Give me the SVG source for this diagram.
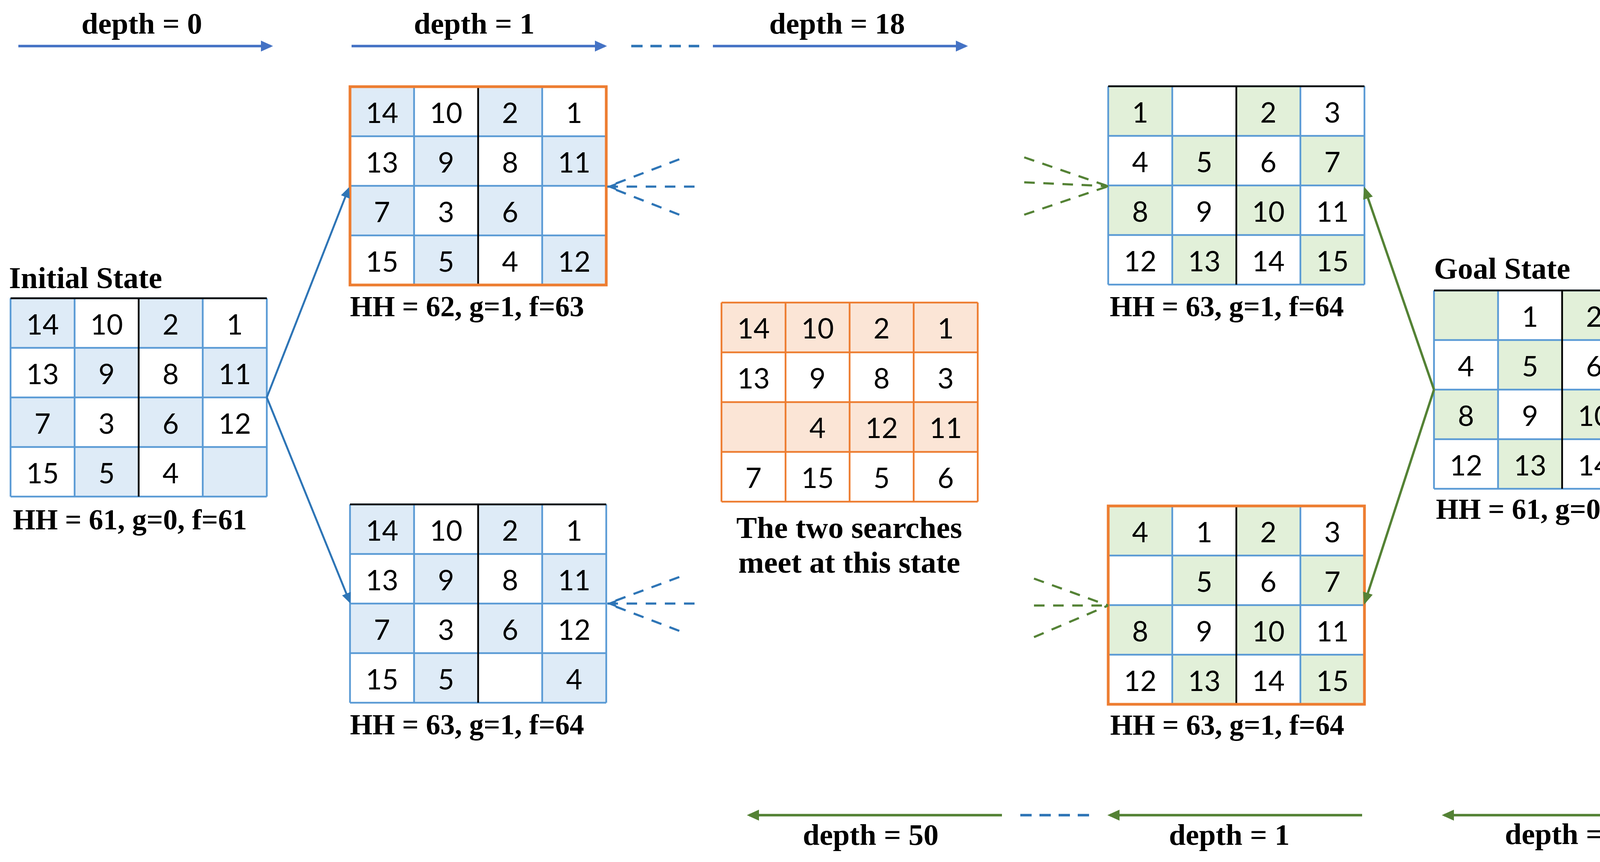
<svg xmlns="http://www.w3.org/2000/svg" xmlns:xlink="http://www.w3.org/1999/xlink" width="4356" height="2208" viewBox="0 0 4356 2208">
<style>
  .num { font-family: Lato, "Liberation Sans", sans-serif; font-size: 72px; text-anchor: middle; fill: #000; }
  .lbl { font-family: "Liberation Serif", serif; font-weight: bold; fill: #000; }
  .hh { font-size: 74px; }
  .ttl { font-size: 78px; }
  .dep { font-size: 77px; text-anchor: middle; }
  .gl { fill: none; stroke: #5B9BD5; stroke-width: 4.5; }
  .blk { fill: none; stroke: #000; stroke-width: 4.5; }
  .obrd { fill: none; stroke: #ED7D31; stroke-width: 7; }
  .ogl { fill: none; stroke: #ED7D31; stroke-width: 4.5; }
  .arrB { stroke: #4472C4; stroke-width: 6.5; fill: none; }
  .arrG { stroke: #548235; stroke-width: 6.5; fill: none; }
  .conB { stroke: #2E75B6; stroke-width: 5; fill: none; }
  .conG { stroke: #548235; stroke-width: 6; fill: none; }
  .dashB { stroke: #2E75B6; stroke-width: 5.5; fill: none; stroke-dasharray: 27 22; }
  .dashG { stroke: #548235; stroke-width: 5.5; fill: none; stroke-dasharray: 27 22; }
  .dashTop { stroke: #2E75B6; stroke-width: 6.5; fill: none; stroke-dasharray: 29 20; }
</style>
<defs>
  <marker id="hB" markerUnits="userSpaceOnUse" markerWidth="32" markerHeight="30" refX="25" refY="14" orient="auto">
    <path d="M0,0 L31,14 L0,28 Z" fill="#4472C4"/>
  </marker>
  <marker id="hG" markerUnits="userSpaceOnUse" markerWidth="32" markerHeight="30" refX="25" refY="14" orient="auto">
    <path d="M0,0 L31,14 L0,28 Z" fill="#548235"/>
  </marker>
  <marker id="hCB" markerUnits="userSpaceOnUse" markerWidth="28" markerHeight="26" refX="22" refY="12" orient="auto">
    <path d="M0,0 L27,12 L0,24 Z" fill="#2E75B6"/>
  </marker>
  <marker id="hCG" markerUnits="userSpaceOnUse" markerWidth="32" markerHeight="28" refX="25" refY="13" orient="auto">
    <path d="M0,0 L31,13 L0,26 Z" fill="#548235"/>
  </marker>
  <marker id="hStealth" markerUnits="userSpaceOnUse" markerWidth="32" markerHeight="26" refX="27" refY="12" orient="auto">
    <path d="M0,1 L29,12 L0,23 L8,12 Z" fill="#2E75B6"/>
  </marker>
  <path id="checker" d="M0,0h164v127H0z M328,0h164v127h-164z M164,127h164v127h-164z M492,127h164v127h-164z M0,254h164v127H0z M328,254h164v127h-164z M164,381h164v127h-164z M492,381h164v127h-164z"/>
  <path id="glines" d="M0,0V508 M164,0V508 M492,0V508 M656,0V508 M0,0H656 M0,127H656 M0,254H656 M0,381H656 M0,508H656"/>
</defs>

<rect width="4356" height="2208" fill="#fff"/>

<!-- Initial state -->
<g id="initial-state">
  <text class="lbl ttl" x="23" y="738">Initial State</text>
  <g transform="translate(27,764)">
    <use xlink:href="#checker" fill="#DEEBF7"/>
    <use xlink:href="#glines" class="gl"/>
    <path class="blk" d="M328,0V508 M0,0H656"/>
    <text class="num" x="82" y="93">14</text><text class="num" x="246" y="93">10</text><text class="num" x="410" y="93">2</text><text class="num" x="574" y="93">1</text>
    <text class="num" x="82" y="220">13</text><text class="num" x="246" y="220">9</text><text class="num" x="410" y="220">8</text><text class="num" x="574" y="220">11</text>
    <text class="num" x="82" y="347">7</text><text class="num" x="246" y="347">3</text><text class="num" x="410" y="347">6</text><text class="num" x="574" y="347">12</text>
    <text class="num" x="82" y="474">15</text><text class="num" x="246" y="474">5</text><text class="num" x="410" y="474">4</text>
  </g>
  <text class="lbl hh" x="33" y="1356">HH = 61, g=0, f=61</text>
</g>

<!-- Forward depth 1, upper -->
<g id="fwd-d1-upper">
  <g transform="translate(896,222)">
    <use xlink:href="#checker" fill="#DEEBF7"/>
    <use xlink:href="#glines" class="gl"/>
    <path class="blk" d="M328,0V508"/>
    <rect class="obrd" x="0" y="0" width="656" height="508"/>
    <text class="num" x="82" y="93">14</text><text class="num" x="246" y="93">10</text><text class="num" x="410" y="93">2</text><text class="num" x="574" y="93">1</text>
    <text class="num" x="82" y="220">13</text><text class="num" x="246" y="220">9</text><text class="num" x="410" y="220">8</text><text class="num" x="574" y="220">11</text>
    <text class="num" x="82" y="347">7</text><text class="num" x="246" y="347">3</text><text class="num" x="410" y="347">6</text>
    <text class="num" x="82" y="474">15</text><text class="num" x="246" y="474">5</text><text class="num" x="410" y="474">4</text><text class="num" x="574" y="474">12</text>
  </g>
  <text class="lbl hh" x="896" y="810">HH = 62, g=1, f=63</text>
</g>

<!-- Forward depth 1, lower -->
<g id="fwd-d1-lower">
  <g transform="translate(896,1292)">
    <use xlink:href="#checker" fill="#DEEBF7"/>
    <use xlink:href="#glines" class="gl"/>
    <path class="blk" d="M328,0V508 M0,0H656"/>
    <text class="num" x="82" y="93">14</text><text class="num" x="246" y="93">10</text><text class="num" x="410" y="93">2</text><text class="num" x="574" y="93">1</text>
    <text class="num" x="82" y="220">13</text><text class="num" x="246" y="220">9</text><text class="num" x="410" y="220">8</text><text class="num" x="574" y="220">11</text>
    <text class="num" x="82" y="347">7</text><text class="num" x="246" y="347">3</text><text class="num" x="410" y="347">6</text><text class="num" x="574" y="347">12</text>
    <text class="num" x="82" y="474">15</text><text class="num" x="246" y="474">5</text><text class="num" x="574" y="474">4</text>
  </g>
  <text class="lbl hh" x="896" y="1881">HH = 63, g=1, f=64</text>
</g>

<!-- Meeting state -->
<g id="meeting-state">
  <g transform="translate(1847,775)">
    <rect x="0" y="0" width="656" height="127.5" fill="#FBE5D6"/>
    <rect x="0" y="255" width="656" height="127.5" fill="#FBE5D6"/>
    <path class="ogl" d="M0,0V510 M164,0V510 M328,0V510 M492,0V510 M656,0V510 M0,0H656 M0,127.5H656 M0,255H656 M0,382.5H656 M0,510H656"/>
    <text class="num" x="82" y="92">14</text><text class="num" x="246" y="92">10</text><text class="num" x="410" y="92">2</text><text class="num" x="574" y="92">1</text>
    <text class="num" x="82" y="219.5">13</text><text class="num" x="246" y="219.5">9</text><text class="num" x="410" y="219.5">8</text><text class="num" x="574" y="219.5">3</text>
    <text class="num" x="246" y="347">4</text><text class="num" x="410" y="347">12</text><text class="num" x="574" y="347">11</text>
    <text class="num" x="82" y="474.5">7</text><text class="num" x="246" y="474.5">15</text><text class="num" x="410" y="474.5">5</text><text class="num" x="574" y="474.5">6</text>
  </g>
  <text class="lbl dep" style="font-size:79px" x="2174" y="1378">The two searches</text>
  <text class="lbl dep" style="font-size:79px" x="2174" y="1467">meet at this state</text>
</g>

<!-- Backward depth 1, upper -->
<g id="bwd-d1-upper">
  <g transform="translate(2837,221)">
    <use xlink:href="#checker" fill="#E2F0D9"/>
    <use xlink:href="#glines" class="gl"/>
    <path class="blk" d="M328,0V508 M0,0H656"/>
    <text class="num" x="82" y="93">1</text><text class="num" x="410" y="93">2</text><text class="num" x="574" y="93">3</text>
    <text class="num" x="82" y="220">4</text><text class="num" x="246" y="220">5</text><text class="num" x="410" y="220">6</text><text class="num" x="574" y="220">7</text>
    <text class="num" x="82" y="347">8</text><text class="num" x="246" y="347">9</text><text class="num" x="410" y="347">10</text><text class="num" x="574" y="347">11</text>
    <text class="num" x="82" y="474">12</text><text class="num" x="246" y="474">13</text><text class="num" x="410" y="474">14</text><text class="num" x="574" y="474">15</text>
  </g>
  <text class="lbl hh" x="2841" y="810">HH = 63, g=1, f=64</text>
</g>

<!-- Backward depth 1, lower -->
<g id="bwd-d1-lower">
  <g transform="translate(2837,1296)">
    <use xlink:href="#checker" fill="#E2F0D9"/>
    <use xlink:href="#glines" class="gl"/>
    <path class="blk" d="M328,0V508"/>
    <rect class="obrd" x="0" y="0" width="656" height="508"/>
    <text class="num" x="82" y="93">4</text><text class="num" x="246" y="93">1</text><text class="num" x="410" y="93">2</text><text class="num" x="574" y="93">3</text>
    <text class="num" x="246" y="220">5</text><text class="num" x="410" y="220">6</text><text class="num" x="574" y="220">7</text>
    <text class="num" x="82" y="347">8</text><text class="num" x="246" y="347">9</text><text class="num" x="410" y="347">10</text><text class="num" x="574" y="347">11</text>
    <text class="num" x="82" y="474">12</text><text class="num" x="246" y="474">13</text><text class="num" x="410" y="474">14</text><text class="num" x="574" y="474">15</text>
  </g>
  <text class="lbl hh" x="2842" y="1882">HH = 63, g=1, f=64</text>
</g>

<!-- Goal state -->
<g id="goal-state">
  <text class="lbl ttl" x="3671" y="714">Goal State</text>
  <g transform="translate(3671,744)">
    <use xlink:href="#checker" fill="#E2F0D9"/>
    <use xlink:href="#glines" class="gl"/>
    <path class="blk" d="M328,0V508 M0,0H656"/>
    <text class="num" x="246" y="93">1</text><text class="num" x="410" y="93">2</text><text class="num" x="574" y="93">3</text>
    <text class="num" x="82" y="220">4</text><text class="num" x="246" y="220">5</text><text class="num" x="410" y="220">6</text><text class="num" x="574" y="220">7</text>
    <text class="num" x="82" y="347">8</text><text class="num" x="246" y="347">9</text><text class="num" x="410" y="347">10</text><text class="num" x="574" y="347">11</text>
    <text class="num" x="82" y="474">12</text><text class="num" x="246" y="474">13</text><text class="num" x="410" y="474">14</text><text class="num" x="574" y="474">15</text>
  </g>
  <text class="lbl hh" x="3676" y="1329">HH = 61, g=0, f=61</text>
</g>

<!-- Depth labels -->
<g id="depth-labels">
  <text class="lbl dep" x="363" y="86">depth = 0</text>
  <text class="lbl dep" x="1214" y="86">depth = 1</text>
  <text class="lbl dep" x="2143" y="86">depth = 18</text>
  <text class="lbl dep" x="2229" y="2164">depth = 50</text>
  <text class="lbl dep" x="3147" y="2164">depth = 1</text>
  <text class="lbl dep" x="4007" y="2162">depth = 0</text>
</g>

<!-- Connectors -->
<g id="connectors">
  <line class="arrB" x1="47" y1="118" x2="693" y2="118" marker-end="url(#hB)"/>
  <line class="arrB" x1="900" y1="118" x2="1548" y2="118" marker-end="url(#hB)"/>
  <line class="dashTop" x1="1616" y1="118" x2="1790" y2="118"/>
  <line class="arrB" x1="1825" y1="118" x2="2472" y2="118" marker-end="url(#hB)"/>
  <line class="arrG" x1="2565" y1="2088" x2="1918" y2="2088" marker-end="url(#hG)"/>
  <line class="dashTop" x1="2612" y1="2088" x2="2788" y2="2088"/>
  <line class="arrG" x1="3487" y1="2088" x2="2841" y2="2088" marker-end="url(#hG)"/>
  <line class="arrG" x1="4344" y1="2088" x2="3697" y2="2088" marker-end="url(#hG)"/>
  <line class="conB" x1="683" y1="1018" x2="892" y2="484" marker-end="url(#hCB)"/>
  <line class="conB" x1="683" y1="1018" x2="895" y2="1541" marker-end="url(#hCB)"/>
  <line class="conG" x1="3671" y1="998" x2="3494" y2="484" marker-end="url(#hCG)"/>
  <line class="conG" x1="3671" y1="998" x2="3494" y2="1543" marker-end="url(#hCG)"/>
  <line class="dashB" x1="1739" y1="408" x2="1556" y2="478"/>
  <line class="dashB" x1="1778" y1="478" x2="1555" y2="478" marker-end="url(#hStealth)"/>
  <line class="dashB" x1="1739" y1="550" x2="1556" y2="478"/>
  <line class="dashB" x1="1739" y1="1478" x2="1556" y2="1546"/>
  <line class="dashB" x1="1778" y1="1546" x2="1555" y2="1546" marker-end="url(#hStealth)"/>
  <line class="dashB" x1="1739" y1="1616" x2="1556" y2="1546"/>
  <line class="dashG" x1="2622" y1="403" x2="2837" y2="477"/>
  <line class="dashG" x1="2622" y1="467" x2="2837" y2="477"/>
  <line class="dashG" x1="2622" y1="550" x2="2837" y2="477"/>
  <line class="dashG" x1="2647" y1="1482" x2="2837" y2="1551"/>
  <line class="dashG" x1="2647" y1="1551" x2="2837" y2="1551"/>
  <line class="dashG" x1="2647" y1="1632" x2="2837" y2="1551"/>
</g>
</svg>
